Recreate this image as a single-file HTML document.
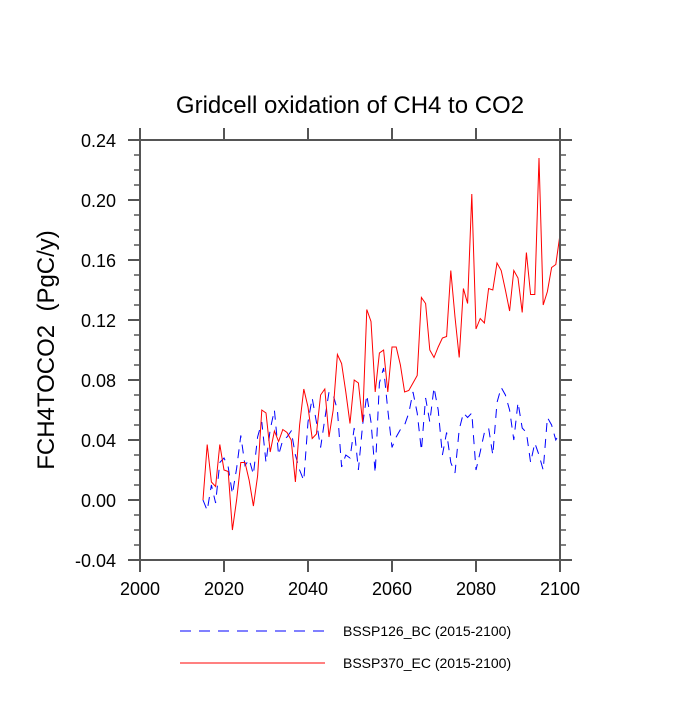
<!DOCTYPE html>
<html><head><meta charset="utf-8"><style>
body{margin:0;background:#fff;}
svg text{font-family:"Liberation Sans",sans-serif;fill:#000;}
</style></head><body>
<svg id="chart" width="700" height="700" xmlns="http://www.w3.org/2000/svg">
<text x="350" y="113" font-size="24" text-anchor="middle">Gridcell oxidation of CH4 to CO2</text>
<text transform="translate(54,350) rotate(-90)" font-size="24" text-anchor="middle" xml:space="preserve">FCH4TOCO2  (PgC/y)</text>
<g id="grid"></g>
<g>
<line x1="180" y1="631" x2="325" y2="631" stroke="#0000ff" stroke-width="1" stroke-dasharray="11,8"/>
<text x="343" y="636" font-size="14">BSSP126_BC (2015-2100)</text>
<line x1="180" y1="663" x2="325" y2="663" stroke="#ff0000" stroke-width="1"/>
<text x="343" y="668" font-size="14">BSSP370_EC (2015-2100)</text>
</g>
</svg>
<script>
const startYear = 2015;
const redValues = [0.000,0.037,0.012,0.009,0.037,0.020,0.019,-0.020,0.000,0.025,0.025,0.013,-0.004,0.016,0.060,0.058,0.032,0.046,0.039,0.047,0.045,0.040,0.012,0.050,0.074,0.062,0.041,0.044,0.070,0.074,0.042,0.060,0.097,0.091,0.072,0.051,0.080,0.078,0.052,0.127,0.119,0.072,0.098,0.100,0.072,0.102,0.102,0.090,0.072,0.073,0.078,0.083,0.135,0.131,0.100,0.095,0.102,0.108,0.109,0.153,0.122,0.095,0.141,0.131,0.204,0.114,0.121,0.118,0.141,0.140,0.158,0.153,0.140,0.126,0.153,0.148,0.125,0.165,0.137,0.137,0.228,0.130,0.139,0.155,0.157,0.177];
const blueValues = [0.000,-0.007,0.010,-0.002,0.025,0.028,0.022,0.004,0.021,0.043,0.023,0.027,0.017,0.042,0.052,0.025,0.047,0.060,0.030,0.040,0.042,0.046,0.030,0.020,0.013,0.052,0.068,0.052,0.035,0.054,0.072,0.070,0.060,0.022,0.030,0.028,0.048,0.020,0.050,0.070,0.052,0.018,0.078,0.088,0.060,0.035,0.042,0.047,0.050,0.058,0.072,0.058,0.033,0.068,0.052,0.075,0.060,0.030,0.045,0.025,0.018,0.047,0.058,0.055,0.058,0.020,0.032,0.045,0.048,0.030,0.065,0.075,0.070,0.060,0.040,0.065,0.048,0.045,0.025,0.038,0.030,0.020,0.055,0.050,0.040,0.045];
const xTicks = [2000,2020,2040,2060,2080,2100];
const yTicks = [-0.04,0.00,0.04,0.08,0.12,0.16,0.20,0.24];
const yTickLabels = ["-0.04","0.00","0.04","0.08","0.12","0.16","0.20","0.24"];

const L=140,R=560,T=140,B=560;
const xMin=2000,xMax=2100,yMin=-0.04,yMax=0.24;
const sx=v=>L+(v-xMin)/(xMax-xMin)*(R-L);
const sy=v=>B-(v-yMin)/(yMax-yMin)*(B-T);
const NS="http://www.w3.org/2000/svg";
const g=document.getElementById('grid');
function mk(tag,attrs){const e=document.createElementNS(NS,tag);for(const k in attrs)e.setAttribute(k,attrs[k]);g.appendChild(e);return e;}
const ax="#555";
function series(vals,color,dash,name){
  const pts=vals.map((v,i)=>sx(startYear+i).toFixed(1)+","+sy(v).toFixed(1)).join(" ");
  const p=mk('polyline',{points:pts,fill:"none",stroke:color,"stroke-width":1});
  if(dash)p.setAttribute('stroke-dasharray',dash);
  
  
}
series(blueValues,"#0000ff","9,7","series-bssp126-bc");
series(redValues,"#ff0000",null,"series-bssp370-ec");
const fr=mk('rect',{x:L,y:T,width:R-L,height:B-T,fill:"none",stroke:ax,"stroke-width":2});


xTicks.forEach(t=>{
  const x=sx(t);
  mk('line',{x1:x,y1:B,x2:x,y2:B+12,stroke:ax,"stroke-width":2});
  mk('line',{x1:x,y1:T,x2:x,y2:T-12,stroke:ax,"stroke-width":2});
  const tx=mk('text',{x:x,y:B+35,"font-size":18,"text-anchor":"middle"});
  tx.textContent=t;
  
  
});
yTicks.forEach((t,i)=>{
  const y=sy(t);
  mk('line',{x1:L,y1:y,x2:L-12,y2:y,stroke:ax,"stroke-width":2});
  mk('line',{x1:R,y1:y,x2:R+12,y2:y,stroke:ax,"stroke-width":2});
  const tx=mk('text',{x:L-24,y:y+7,"font-size":18,"text-anchor":"end"});
  tx.textContent=yTickLabels[i];
  
  
});
for(let k=0;k<=28;k++){
  const v=yMin+k*0.01; if(k%4===0)continue;
  const y=sy(v);
  mk('line',{x1:L,y1:y,x2:L-6,y2:y,stroke:ax,"stroke-width":1.5});
  mk('line',{x1:R,y1:y,x2:R+6,y2:y,stroke:ax,"stroke-width":1.5});
}
</script>
</body></html>
